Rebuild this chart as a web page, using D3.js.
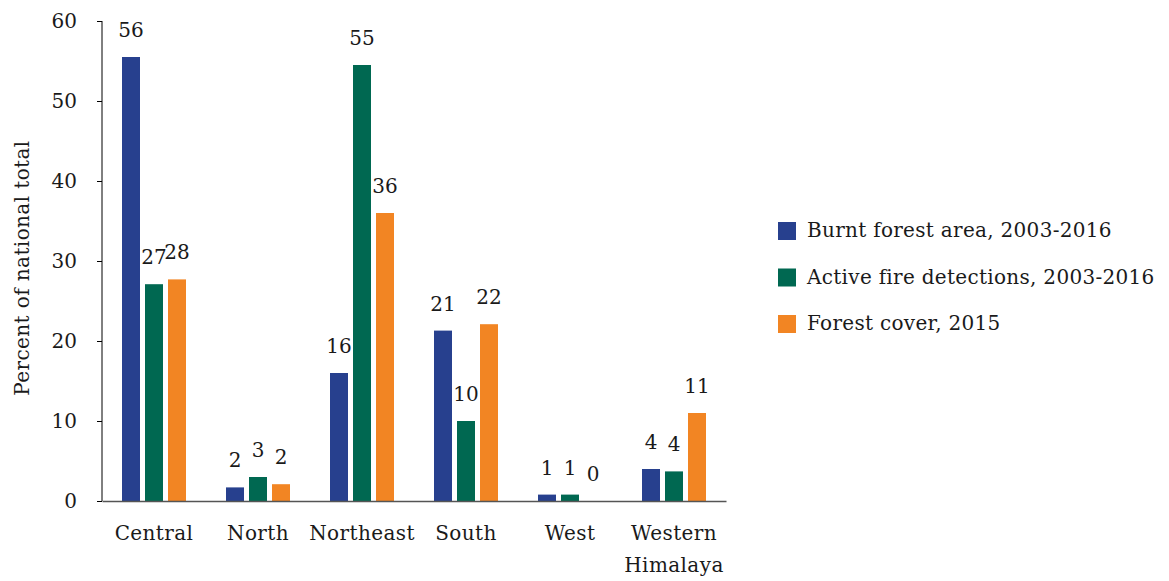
<!DOCTYPE html>
<html><head><meta charset="utf-8">
<script src="https://cdn.jsdelivr.net/npm/d3@7"></script>
<style>body{margin:0;background:#fff}svg{display:block}</style>
</head><body><svg id="c" width="1169" height="581"></svg>
<script>
const categories = ["Central","North","Northeast","South","West","Western Himalaya"];
const seriesNames = ["Burnt forest area, 2003-2016","Active fire detections, 2003-2016","Forest cover, 2015"];
const burnt = [55.5, 1.7, 16, 21.3, 0.8, 4];
const fire = [27.1, 3, 54.5, 10, 0.8, 3.7];
const cover = [27.7, 2.1, 36, 22.1, 0, 11];
const yTicks = [0,10,20,30,40,50,60];
const colors = ["#27408e","#006851","#f28523"];
const FONT = "'DejaVu Serif', serif";

const series = [burnt, fire, cover];
const svg = d3.select("#c");
const x = d3.scaleBand().domain(categories).range([102,726]).padding(0);
const y = d3.scaleLinear().domain([0,60]).range([501,21]);
const inner = d3.scaleBand().domain([0,1,2]).range([0,64]).paddingInner(5/23);

function T(sel){ return sel.style("font-family", FONT).style("fill","#1a1a1a"); }

categories.forEach((c,i)=>{
  const gx = x(c) + (x.bandwidth()-64)/2;
  series.forEach((s,k)=>{
    const v = s[i];
    svg.append("rect").attr("x", gx+inner(k)).attr("width", inner.bandwidth())
      .attr("y", y(v)).attr("height", y(0)-y(v)).attr("fill", colors[k]);
    T(svg.append("text")).attr("x", gx+inner(k)+inner.bandwidth()/2).attr("y", y(v)-20)
      .attr("text-anchor","middle").style("font-size","20px").text(Math.round(v));
  });
});

const ya = svg.append("g").attr("transform","translate(102,0)")
  .call(d3.axisLeft(y).tickValues(yTicks).tickSize(5).tickPadding(20).tickFormat(d3.format("d")));
ya.select(".domain").attr("stroke","#000").attr("d","M0,21V501");
ya.selectAll(".tick line").attr("stroke","#000");
T(ya.selectAll("text")).style("font-size","20px");

const xa = svg.append("g").attr("transform","translate(0,501)")
  .call(d3.axisBottom(x).tickSize(0).tickPadding(0).tickFormat(""));
xa.select(".domain").attr("stroke","#555").attr("stroke-width",1.5);
categories.forEach(c=>{
  const words = c === "Western Himalaya" ? ["Western","Himalaya"] : [c];
  words.forEach((w,j)=>{
    T(svg.append("text")).attr("x", x(c)+x.bandwidth()/2).attr("y", 540+j*32)
      .attr("text-anchor","middle").style("font-size","20px").style("letter-spacing","0.4px").text(w);
  });
});

T(svg.append("text")).attr("transform","translate(29,268) rotate(-90)")
  .attr("text-anchor","middle").style("font-size","20px").style("letter-spacing","0.4px").text("Percent of national total");

seriesNames.forEach((n,k)=>{
  const ly = 222 + k*46.5;
  svg.append("rect").attr("x",778).attr("y",ly).attr("width",18).attr("height",18).attr("fill",colors[k]);
  T(svg.append("text")).attr("x",807).attr("y",ly+15).style("font-size","20px").style("letter-spacing","0.3px").text(n);
});
</script></body></html>
